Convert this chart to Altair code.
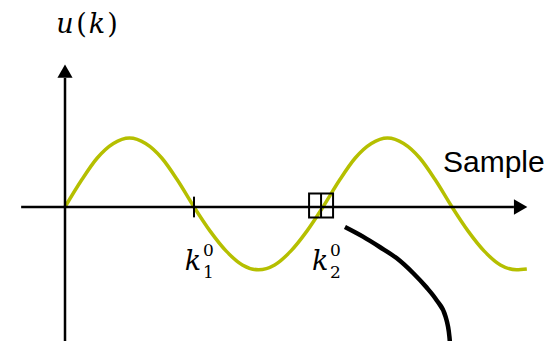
import altair as alt
import pandas as pd

# Sample axis in half-period units, amplitude units (positive peak = 1)
wave_x = [0, .125, .25, .375, .5, .625, .75, .875, 1.0,
          1.125, 1.25, 1.375, 1.5, 1.625, 1.75, 1.875, 2.0,
          2.125, 2.25, 2.375, 2.5, 2.625, 2.75, 2.875, 3.0,
          3.125, 3.25, 3.375, 3.5, 3.58]
wave_y = [0, .38, .71, .92, 1.0, .92, .71, .38, 0,
          -.35, -.64, -.84, -.91, -.84, -.64, -.35, 0,
          .38, .71, .92, 1.0, .92, .71, .38, 0,
          -.35, -.64, -.84, -.91, -.90]

curve_x = [2.17, 2.31, 2.44, 2.57, 2.70, 2.80, 2.88, 2.95, 2.98, 2.99]
curve_y = [-0.29, -0.43, -0.58, -0.74, -0.96, -1.16, -1.35, -1.59, -1.88, -2.10]

k_marks = [1.0, 1.985]          # k1^0 (tick), k2^0 (square)
k_subs = ["1", "2"]
x_axis_range = [-0.34, 3.48]
y_axis_range = [-2.10, 1.87]
x_label = "Sample"
y_label = ["u", "(", "k", ")"]

X = alt.Scale(domain=[-0.4419, 3.7597])
Y = alt.Scale(domain=[-1.942, 2.884])


def ex(f="x"):
    return alt.X(f, type="quantitative", scale=X, axis=None)


def ey(f="y"):
    return alt.Y(f, type="quantitative", scale=Y, axis=None)


BLACK = "#000000"
GREEN = "#b5bf00"
MATH = "DejaVu Serif"

hx = pd.DataFrame({"x": [x_axis_range[0]], "x2": [x_axis_range[1]], "y": [0.0]})
hline = alt.Chart(hx).mark_rule(color=BLACK, strokeWidth=2.5).encode(
    x=ex("x"), x2="x2", y=ey("y"))
vy = pd.DataFrame({"x": [0.0], "y": [y_axis_range[0]], "y2": [y_axis_range[1]]})
vline = alt.Chart(vy).mark_rule(color=BLACK, strokeWidth=2.5).encode(
    x=ex("x"), y=ey("y"), y2="y2")

arr_r = alt.Chart(pd.DataFrame({"x": [3.532], "y": [0.0]})).mark_point(
    shape="triangle-right", filled=True, color=BLACK, opacity=1, size=240).encode(
    x=ex(), y=ey())
arr_u = alt.Chart(pd.DataFrame({"x": [0.0], "y": [1.97]})).mark_point(
    shape="triangle-up", filled=True, color=BLACK, opacity=1, size=230).encode(
    x=ex(), y=ey())

wave_df = pd.DataFrame({"x": wave_x, "y": wave_y, "i": range(len(wave_x))})
wave = alt.Chart(wave_df).mark_line(color=GREEN, strokeWidth=3.5,
                                   interpolate="monotone").encode(
    x=ex(), y=ey(), order="i:Q")

curve_df = pd.DataFrame({"x": curve_x, "y": curve_y, "i": range(len(curve_x))})
curve = alt.Chart(curve_df).mark_line(color=BLACK, strokeWidth=4.5,
                                     interpolate="monotone", clip=True).encode(
    x=ex(), y=ey(), order="i:Q")

tick = alt.Chart(pd.DataFrame({"x": [k_marks[0]], "y": [-0.15], "y2": [0.15]})).mark_rule(
    color=BLACK, strokeWidth=2).encode(x=ex(), y=ey(), y2="y2")
sq = alt.Chart(pd.DataFrame({"x": [k_marks[1]], "y": [0.02]})).mark_point(
    shape="square", filled=False, color=BLACK, opacity=1, strokeWidth=2, size=576).encode(
    x=ex(), y=ey())
sq_line = alt.Chart(pd.DataFrame({"x": [k_marks[1]], "y": [-0.15], "y2": [0.19]})).mark_rule(
    color=BLACK, strokeWidth=2).encode(x=ex(), y=ey(), y2="y2")

# Labels
lab_df = pd.DataFrame({"x": k_marks, "y": [-0.913, -0.913], "s": k_subs,
                       "k": ["k", "k"], "z": ["0", "0"]})
k_txt = alt.Chart(lab_df).mark_text(font=MATH, fontStyle="italic", fontSize=27,
                                    align="center", baseline="alphabetic", dx=-1,
                                    color=BLACK).encode(x=ex(), y=ey(), text="k:N")
sub_txt = alt.Chart(lab_df).mark_text(font=MATH, fontSize=17, align="left",
                                      baseline="alphabetic", dx=9, dy=8,
                                      color=BLACK).encode(x=ex(), y=ey(), text="s:N")
sup_txt = alt.Chart(lab_df).mark_text(font=MATH, fontSize=17, align="left",
                                      baseline="alphabetic", dx=9, dy=-14,
                                      color=BLACK).encode(x=ex(), y=ey(), text="z:N")

u_layers = []
u_dx = [0, 16.5, 32, 47.5]
u_style = ["italic", "normal", "italic", "normal"]
for ch, d, st in zip(y_label, u_dx, u_style):
    u_layers.append(
        alt.Chart(pd.DataFrame({"x": [0.0], "y": [2.52], "t": [ch]})).mark_text(
            font=MATH, fontStyle=st, fontSize=27, align="center",
            baseline="alphabetic", dx=d, color=BLACK).encode(x=ex(), y=ey(), text="t:N"))

sample_txt = alt.Chart(pd.DataFrame({"x": [2.93], "y": [0.507], "t": [x_label]})).mark_text(
    font="Liberation Sans", fontSize=30, align="left", baseline="alphabetic",
    color=BLACK).encode(x=ex(), y=ey(), text="t:N")

chart = alt.layer(
    wave, hline, vline, arr_r, arr_u, tick, sq, sq_line, curve,
    k_txt, sub_txt, sup_txt, sample_txt, *u_layers
).properties(
    width=542, height=333, padding=0,
    autosize=alt.AutoSizeParams(type="none")
).configure(
    background="white",
    view=alt.ViewConfig(stroke=None)
)

chart.save("out.html", embed_options={"renderer": "svg", "actions": False})
